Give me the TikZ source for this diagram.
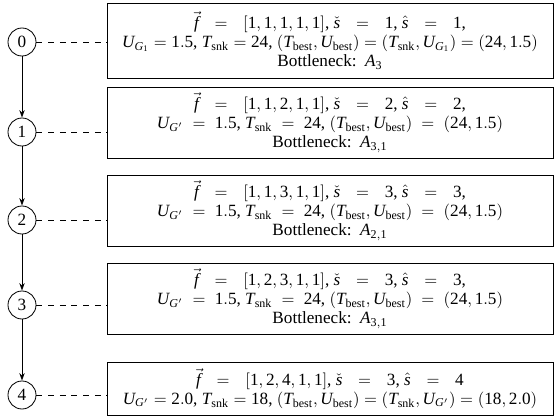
\documentclass[tikz,border=0pt]{standalone}
\IfFileExists{mathspec.sty}{%
  \usepackage{mathspec}%
  \setmainfont{Liberation Serif}%
  \setmathsfont(Digits,Latin)[Numbers=Lining]{Liberation Serif}%
  \setmathrm{Liberation Serif}%
}{%
  \usepackage{fontspec}%
  \setmainfont{Liberation Serif}%
}
\usetikzlibrary{arrows.meta}
\newcommand{\W}{\mskip12mu=\mskip12mu}
\newcommand{\V}{\;=\;}
\begin{document}
\begin{tikzpicture}[x=0.6pt,y=-0.6pt,
  state/.style={draw,circle,line width=0.5pt,minimum size=16.8pt,inner sep=0pt,font=\fontsize{10.3}{12}\selectfont},
  infobox/.style={draw,line width=0.5pt,align=center,inner sep=0pt,minimum width=267.6pt,font=\fontsize{10.3}{11.6}\selectfont},
  tedge/.style={-{Stealth[length=4.5pt,width=3.2pt]},line width=0.5pt},
  link/.style={line width=0.5pt,dash pattern=on 3.5pt off 3.5pt}]
\useasboundingbox (0,0) rectangle (555,419);
\node[state] (s0) at (22,42) {0};
\node[state] (s1) at (22,132) {1};
\node[state] (s2) at (22,220) {2};
\node[state] (s3) at (22,305) {3};
\node[state] (s4) at (22,395) {4};
\node[infobox,minimum height=45pt] (b0) at (330,40.5) {$\vec{f}\W[1,1,1,1,1]$, $\check{s}\W1$, $\hat{s}\W1$,\\
$U_{G_1}=1.5$, $T_{\mathrm{snk}}=24$, $(T_{\mathrm{best}},U_{\mathrm{best}})=(T_{\mathrm{snk}},U_{G_1})=(24,1.5)$\\
Bottleneck:\ \ $A_3$};
\node[infobox,minimum height=42.6pt] (b1) at (330,122.5) {$\vec{f}\W[1,1,2,1,1]$, $\check{s}\W2$, $\hat{s}\W2$,\\
$U_{G'}\V1.5$, $T_{\mathrm{snk}}\V24$, $(T_{\mathrm{best}},U_{\mathrm{best}})\V(24,1.5)$\\
Bottleneck:\ \ $A_{3,1}$};
\node[infobox,minimum height=42.6pt] (b2) at (330,210.5) {$\vec{f}\W[1,1,3,1,1]$, $\check{s}\W3$, $\hat{s}\W3$,\\
$U_{G'}\V1.5$, $T_{\mathrm{snk}}\V24$, $(T_{\mathrm{best}},U_{\mathrm{best}})\V(24,1.5)$\\
Bottleneck:\ \ $A_{2,1}$};
\node[infobox,minimum height=42.6pt] (b3) at (330,298.5) {$\vec{f}\W[1,2,3,1,1]$, $\check{s}\W3$, $\hat{s}\W3$,\\
$U_{G'}\V1.5$, $T_{\mathrm{snk}}\V24$, $(T_{\mathrm{best}},U_{\mathrm{best}})\V(24,1.5)$\\
Bottleneck:\ \ $A_{3,1}$};
\node[infobox,minimum height=31.8pt] (b4) at (330,388.5) {$\vec{f}\W[1,2,4,1,1]$, $\check{s}\W3$, $\hat{s}\W4$\\
$U_{G'}=2.0$, $T_{\mathrm{snk}}=18$, $(T_{\mathrm{best}},U_{\mathrm{best}})=(T_{\mathrm{snk}},U_{G'})=(18,2.0)$};
\draw[tedge] (s0) -- (s1);
\draw[tedge] (s1) -- (s2);
\draw[tedge] (s2) -- (s3);
\draw[tedge] (s3) -- (s4);
\foreach \i in {0,...,4} \draw[link] (s\i) -- (s\i -| b\i.west);
\end{tikzpicture}
\end{document}
